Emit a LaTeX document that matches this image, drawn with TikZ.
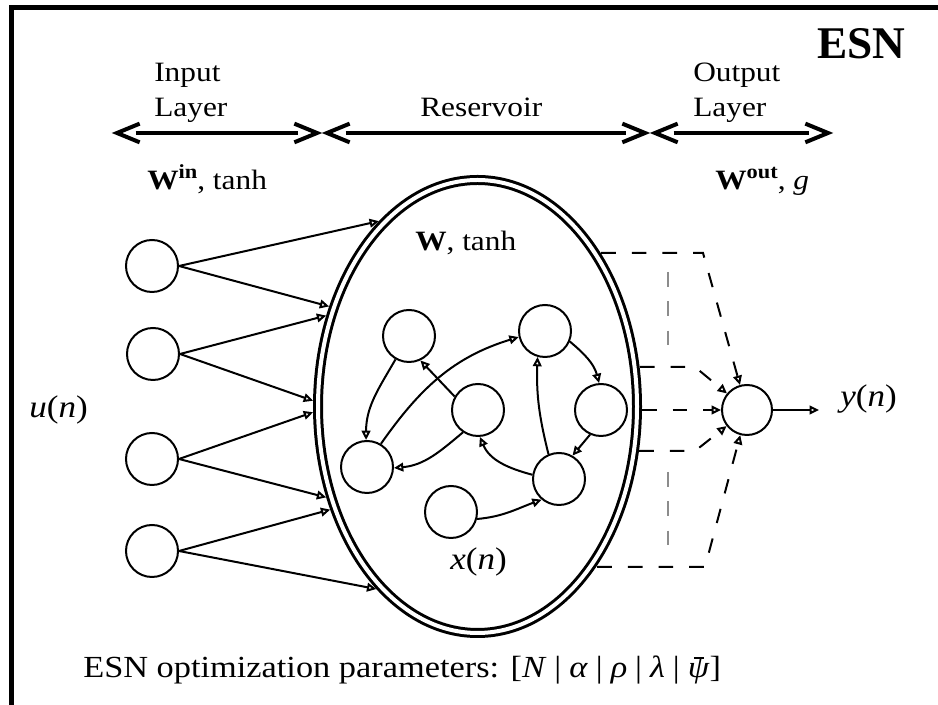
\documentclass[tikz,border=0pt]{standalone}
\usepackage{fontspec}
\setmainfont{Liberation Serif}[FakeStretch=1.12]
\newfontfamily\titlefont{Liberation Serif}
\usetikzlibrary{arrows.meta, shapes.geometric}

\newcommand\labfont{\fontsize{21}{25}\selectfont}
\newcommand\mathfont{\fontsize{23.5}{27}\selectfont}
\newcommand\paramfont{\fontsize{23}{27}\selectfont}
\newcommand\supbold[1]{\raisebox{0.42em}{\fontsize{15}{15}\selectfont\bfseries #1}}
\newcommand\barpsi{\makebox[0pt][l]{\hspace{0.2em}\rule[0.62em]{0.34em}{0.05em}}\textit{ψ}}
\newcommand\sepbar{\hspace{0.26em}|\hspace{0.26em}}
\definecolor{midgray}{gray}{0.55}

\begin{document}
\begin{tikzpicture}[x=0.75pt, y=0.75pt,
  txt/.style={inner sep=0pt, anchor=base west, font=\labfont},
  neuron/.style={circle, draw, line width=1.5pt, minimum size=39pt, inner sep=0pt},
  arr/.style={line width=1.5pt, -{Triangle[open, length=7pt, width=6.5pt]}},
  darr/.style={arr, dash pattern=on 11pt off 12pt},
  gdash/.style={draw=midgray, line width=1.3pt, dash pattern=on 11pt off 11pt},
  shaft/.style={line width=3pt},
  chevron/.style={line width=3pt, line join=miter, miter limit=20},
  frameline/.style={line width=3.75pt, line join=miter}]

\useasboundingbox (0,0) rectangle (938,705);

% frame (top and left edges)
\coordinate (fb) at (11,-10);
\coordinate (fc) at (11,697.8);
\coordinate (fr) at (950,697.8);
\draw[frameline] (fb) -- (fc) -- (fr);

% title
\node[txt, font=\titlefont\bfseries\fontsize{34}{40}\selectfont] (title) at (817,646) {ESN};

% layer headings
\node[txt] (inlab1) at (154,623) {Input};
\node[txt] (inlab2) at (154,588) {Layer};
\node[txt] (reslab) at (420,588) {Reservoir};
\node[txt] (outlab1) at (693,623) {Output};
\node[txt] (outlab2) at (693,588) {Layer};

% layer span arrows
\coordinate (inL) at (117,572);  \coordinate (inR) at (317,572);
\coordinate (rsL) at (327,572);  \coordinate (rsR) at (645,572);
\coordinate (ouL) at (655,572);  \coordinate (ouR) at (828,572);
\foreach \l/\r in {inL/inR, rsL/rsR, ouL/ouR}{
  \draw[shaft, shorten <=14pt, shorten >=14pt] (\l) -- (\r);
  \draw[chevron] ([shift={(17pt,7pt)}]\l) -- (\l) -- ([shift={(17pt,-7pt)}]\l);
  \draw[chevron] ([shift={(-17pt,7pt)}]\r) -- (\r) -- ([shift={(-17pt,-7pt)}]\r);
}

% weight labels
\node[txt] (win) at (147,515) {\textbf{W}\supbold{in}, tanh};
\node[txt] (wout) at (715,515) {\textbf{W}\supbold{out}, \textit{g}};

% reservoir
\node[ellipse, draw, line width=2.25pt, double, double distance=3pt,
      minimum width=239.25pt, minimum height=339.75pt, inner sep=0pt,
      outer sep=3.75pt] (res) at (477.5,298.5) {};
\node[txt] (wres) at (415,454) {\textbf{W}, tanh};
\node[txt, font=\mathfont] (xlab) at (450,135) {\textit{x}(\textit{n})};

% input units
\node[neuron] (i1) at (152,439) {};
\node[neuron] (i2) at (153,351) {};
\node[neuron] (i3) at (152,246) {};
\node[neuron] (i4) at (152,154) {};
\node[txt, font=\mathfont] (ulab) at (29,287) {\textit{u}(\textit{n})};

\draw[arr] (i1.east) -- (res.118.7);
\draw[arr] (i1.east) -- (res.146.5);
\draw[arr] (i2.east) -- (res.149.9);
\draw[arr] (i2.east) -- (res.178.5);
\draw[arr] (i3.east) -- (res.182.9);
\draw[arr] (i3.east) -- (res.211.3);
\draw[arr] (i4.east) -- (res.215.0);
\draw[arr] (i4.east) -- (res.241.7);

% reservoir units
\node[neuron] (A) at (409,369) {};
\node[neuron] (B) at (545,374) {};
\node[neuron] (C) at (478,295) {};
\node[neuron] (D) at (601,295) {};
\node[neuron] (E) at (367,238) {};
\node[neuron] (F) at (559,226) {};
\node[neuron] (G) at (451,193) {};

\draw[arr] (A.240) to[out=240, in=90] (E.92);
\draw[arr] (C.150) -- (A.-65);
\draw[arr] (E.59) to[out=55, in=197] (B.193);
\draw[arr] (C.236) to[out=220, in=5] (E.-2);
\draw[arr] (B.-23) to[out=-40, in=105] (D.94);
\draw[arr] (D.246) -- (F.60);
\draw[arr] (F.113) to[out=104, in=268] (B.254);
\draw[arr] (F.171) to[out=165, in=293] (C.274);
\draw[arr] (G.-15) to[out=5, in=200] (F.230);

% output unit
\node[neuron, minimum size=37.5pt] (out) at (747,295) {};
\coordinate (yend) at (819,295);
\draw[arr] (out) -- (yend);
\node[txt, font=\mathfont] (ylab) at (840,298) {\textit{y}(\textit{n})};

% readout connections
\coordinate (b1) at (703,452);
\coordinate (b2) at (695,338);
\coordinate (b4) at (695,254);
\coordinate (b5) at (705,138);
\draw[darr] (res.51.3 |- b1) -- (b1) -- (out);
\draw[darr] (res.13.7 |- b2) -- (b2) -- (out);
\draw[darr] (res.-1.2 |- out) -- (out);
\draw[darr] (res.-15.4 |- b4) -- (b4) -- (out);
\draw[darr] (res.-53.6 |- b5) -- (b5) -- (out);

% further readouts (elided)
\coordinate (g1) at (668,433); \coordinate (g2) at (668,357);
\coordinate (g3) at (668,233); \coordinate (g4) at (668,158);
\draw[gdash] (g1) -- (g2);
\draw[gdash] (g3) -- (g4);

% optimisation parameters
\node[txt, font=\paramfont] (params) at (83,27) {ESN optimization parameters: [\textit{N}\sepbar\textit{α}\sepbar\textit{ρ}\sepbar\textit{λ}\sepbar\barpsi]};

\end{tikzpicture}
\end{document}
